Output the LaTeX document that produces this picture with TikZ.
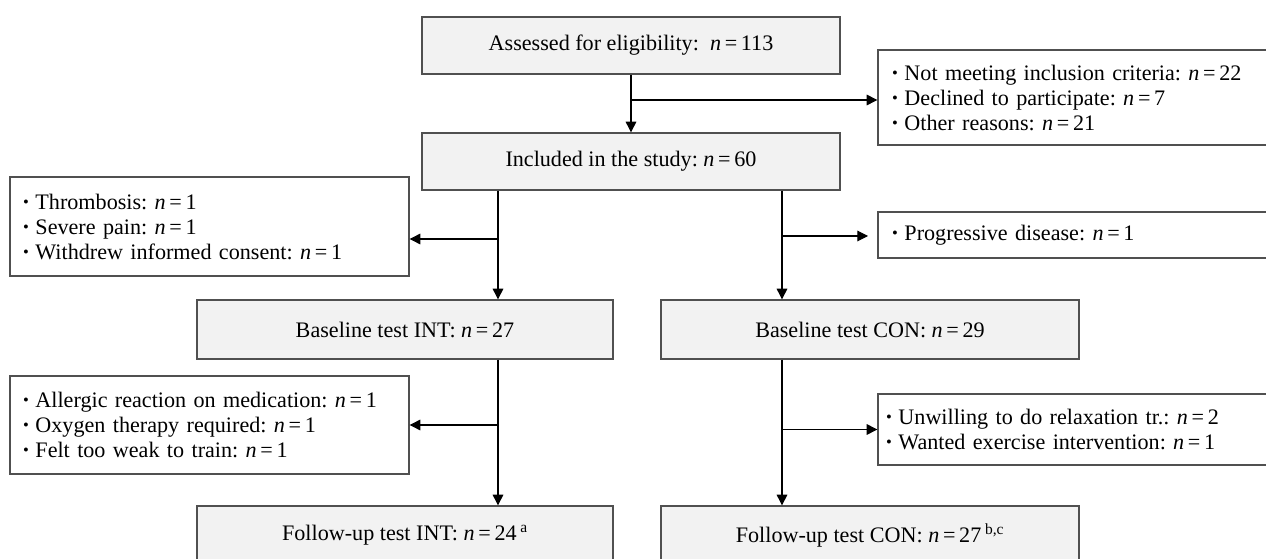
\documentclass[tikz,border=0pt]{standalone}
\usepackage{fontspec}
\setmainfont{Liberation Serif}
\usetikzlibrary{arrows.meta,calc}
\definecolor{boxfill}{HTML}{F2F2F2}
\definecolor{boxline}{HTML}{505050}
\frenchspacing
\newcommand{\nn}[1]{\textit{n}\,=\,#1}
\newcommand{\bul}{\raisebox{0.15ex}{\scalebox{0.75}{\textbullet}}\hspace{0.3em}}
\tikzset{
  mainbox/.style={draw=boxline, line width=1pt, fill=boxfill, minimum height=42.75pt, inner sep=0pt, align=center, font=\fontsize{16.6}{18.75}\selectfont},
  listbox/.style={draw=boxline, line width=1pt, fill=white, inner ysep=0pt, align=left, font=\fontsize{16.6}{18.75}\selectfont},
  conn/.style={line width=0.8pt, draw=black},
  arr/.style={conn, -{Triangle[length=8pt,width=8pt]}}
}
\begin{document}
\frenchspacing
\begin{tikzpicture}[x=0.75pt,y=-0.75pt]
\useasboundingbox (0,0) rectangle (1266,559);
\clip (0,0) rectangle (1266,559);
\fill[white] (0,0) rectangle (1266,559);
% main boxes
\node[mainbox, minimum width=313.5pt] (assess) at (631,45.5) {Assessed for eligibility: \ \nn{113}};
\node[mainbox, minimum width=313.5pt] (incl) at (631,161.5) {Included in the study: \nn{60}};
\node[mainbox, minimum width=312pt, minimum height=44.25pt] (bint) at (405,329.5) {Baseline test INT: \nn{27}};
\node[mainbox, minimum width=313.5pt, minimum height=44.25pt] (bcon) at (870,329.5) {Baseline test CON: \nn{29}};
\node[mainbox, minimum width=312pt, minimum height=44.25pt] (fint) at (405,535.5) {Follow-up test INT: \nn{24}\,\textsuperscript{a}};
\node[mainbox, minimum width=313.5pt, minimum height=44.25pt] (fcon) at (870,535.5) {Follow-up test CON: \nn{27}\,\textsuperscript{b,c}};
% list boxes
\node[listbox, inner xsep=10.5pt, text width=276.75pt, minimum height=71.25pt] (excl) at (1076.5,97.5)
  {\bul Not meeting inclusion criteria: \nn{22}\\ \bul Declined to participate: \nn{7}\\ \bul Other reasons: \nn{21}};
\node[listbox, inner xsep=9.75pt, text width=279.75pt, minimum height=74.25pt] (left1) at (209.5,226.5)
  {\bul Thrombosis: \nn{1}\\ \bul Severe pain: \nn{1}\\ \bul Withdrew informed consent: \nn{1}};
\node[listbox, inner xsep=10.5pt, text width=276.75pt, minimum height=34.5pt] (prog) at (1076.5,235)
  {\bul Progressive disease: \nn{1}};
\node[listbox, inner xsep=9.75pt, text width=279.75pt, minimum height=73.5pt] (left2) at (209.5,425)
  {\bul Allergic reaction on medication: \nn{1}\\ \bul Oxygen therapy required: \nn{1}\\ \bul Felt too weak to train: \nn{1}};
\node[listbox, inner xsep=6pt, text width=285.75pt, minimum height=53.25pt] (right2) at (1076.5,429.5)
  {\bul Unwilling to do relaxation tr.: \nn{2}\\ \bul Wanted exercise intervention: \nn{1}};
% junction coordinates
\coordinate (j1) at (631,100);
\coordinate (j2) at (498,239);
\coordinate (j3) at (782,236);
\coordinate (j3e) at (868,236);
\coordinate (j4) at (498,425);
\coordinate (j5) at (782,429.5);
% connectors
\draw[arr] (assess.south) -- (incl.north);
\draw[arr] (j1) -- (j1 -| excl.west);
\draw[arr] (incl.south -| j2) -- (bint.north -| j2);
\draw[arr] (j2) -- (j2 -| left1.east);
\draw[arr] (incl.south -| j3) -- (bcon.north -| j3);
\draw[arr] (j3) -- (j3e);
\draw[arr] (bint.south -| j4) -- (fint.north -| j4);
\draw[arr] (j4) -- (j4 -| left2.east);
\draw[arr] (bcon.south -| j5) -- (fcon.north -| j5);
\draw[arr] (j5) -- (j5 -| right2.west);
\end{tikzpicture}
\end{document}
